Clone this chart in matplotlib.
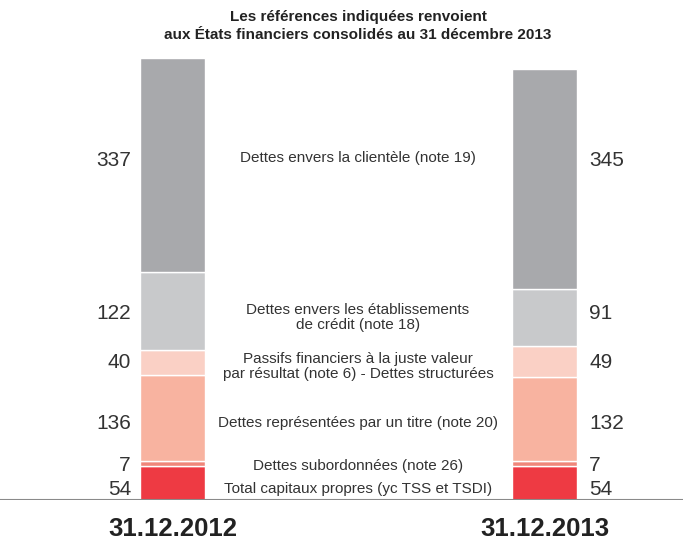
import matplotlib.pyplot as plt

plt.rcParams['font.family'] = ['Liberation Sans', 'DejaVu Sans']

years = ['31.12.2012', '31.12.2013']
# bottom to top
categories = ['Total capitaux propres (yc TSS et TSDI)',
              'Dettes subordonnées (note 26)',
              'Dettes représentées par un titre (note 20)',
              'Passifs financiers à la juste valeur\npar résultat (note 6) - Dettes structurées',
              'Dettes envers les établissements\nde crédit (note 18)',
              'Dettes envers la clientèle (note 19)']
values_2012 = [54, 7, 136, 40, 122, 337]
values_2013 = [54, 7, 132, 49, 91, 345]
colors = ['#ee3a43', '#f0867a', '#f8b3a0', '#fad0c5', '#c8c9cb', '#a8a9ac']

# y positions (value units) of the text rows
label_y = [17, 55, 121, 217, 294, 535]
cat_y = [17, 53, 121, 210, 287, 539]

fig = plt.figure(figsize=(6.83, 5.42), dpi=100)
ax = fig.add_axes([0, 42 / 542, 1, 458 / 542])
ax.set_xlim(0, 683)
ax.set_ylim(0, 458 / 0.635)
ax.axis('off')

xpos = [172.5, 544.5]
for x, vals in zip(xpos, [values_2012, values_2013]):
    bottom = 0
    for v, c in zip(vals, colors):
        ax.bar(x, v, width=65, bottom=bottom, color=c, edgecolor='white', linewidth=1)
        bottom += v

txt = '#333333'
for i in range(len(categories)):
    ax.text(131, label_y[i], str(values_2012[i]), ha='right', va='center', fontsize=15, color=txt)
    ax.text(589, label_y[i], str(values_2013[i]), ha='left', va='center', fontsize=15, color=txt)
    ax.text(358, cat_y[i], categories[i], ha='center', va='center', fontsize=11, color=txt,
            linespacing=1.05)

ax.axhline(0, color='#8a8a8a', linewidth=1.5, xmin=0, xmax=1)

for x, y in zip(xpos, years):
    fig.text(x / 683, 1 - 529 / 542, y, ha='center', va='center', fontsize=18.5,
             fontweight='bold', color='#222222')

fig.text(358 / 683, 1 - 26 / 542,
         'Les références indiquées renvoient\naux États financiers consolidés au 31 décembre 2013',
         ha='center', va='center', fontsize=11, fontweight='bold', color='#222222',
         linespacing=1.45)

fig.savefig('out.png', dpi=100)
